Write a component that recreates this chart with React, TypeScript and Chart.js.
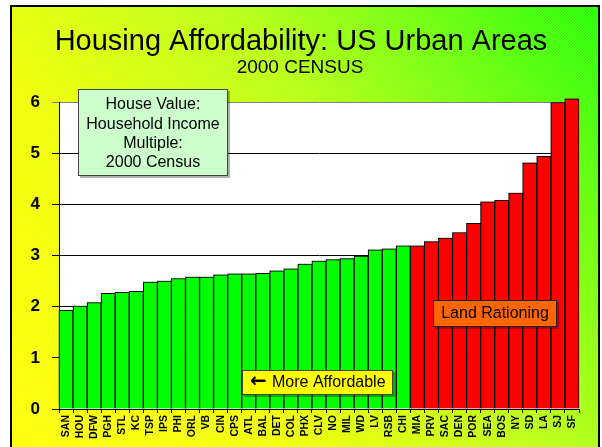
import React, { useEffect, useRef } from "react";
import { Chart, registerables } from "chart.js";

Chart.register(...registerables);

const cities = [
  "SAN", "HOU", "DFW", "PGH", "STL", "KC", "TSP", "IPS", "PHI", "ORL", "VB", "CIN", "CPS",
  "ATL", "BAL", "DET", "COL", "PHX", "CLV", "NO", "MIL", "WD", "LV", "RSB", "CHI",
  "MIA", "PRV", "SAC", "DEN", "POR", "SEA", "BOS", "NY", "SD", "LA", "SJ", "SF",
];
const multiples = [
  1.93, 2.01, 2.08, 2.26, 2.28, 2.3, 2.48, 2.5, 2.55, 2.58, 2.58, 2.62, 2.64,
  2.64, 2.65, 2.7, 2.74, 2.83, 2.89, 2.92, 2.94, 2.99, 3.11, 3.13, 3.19,
  3.19, 3.27, 3.34, 3.45, 3.63, 4.05, 4.08, 4.22, 4.81, 4.94, 5.99, 6.06,
];
const affordableCount = 25;
const yTicks = [0, 1, 2, 3, 4, 5, 6];

const titleText = "Housing Affordability: US Urban Areas";
const subtitleText = "2000 CENSUS";
const infoLines = ["House Value:", "Household Income", "Multiple:", "2000 Census"];
const arrowGlyph = "\u2190";
const affordableLabel = "More Affordable";
const rationingLabel = "Land Rationing";

const FONT = "Arial, 'Liberation Sans', sans-serif";

const backgroundPlugin = {
  id: "bgFrame",
  beforeDraw(chart: any) {
    const { ctx, width, height, chartArea } = chart;
    ctx.save();
    ctx.fillStyle = "#ffffff";
    ctx.fillRect(0, 0, width, height);
    const fx = 11, fy = 6, fw = 588, fh = height + 10;
    const g = ctx.createLinearGradient(fx, height, fx + fw, fy);
    g.addColorStop(0, "#ffff00");
    g.addColorStop(0.3, "#f0ff00");
    g.addColorStop(0.6, "#b8ff10");
    g.addColorStop(1, "#22ff00");
    ctx.fillStyle = g;
    ctx.fillRect(fx, fy, fw, fh);
    ctx.beginPath();
    ctx.rect(fx, fy, fw, fh);
    ctx.clip();
    ctx.beginPath();
    ctx.strokeStyle = "rgba(255,255,255,0.18)";
    ctx.lineWidth = 1;
    for (let k = -height; k < width + height; k += 3) {
      ctx.moveTo(k, 0);
      ctx.lineTo(k + height, height);
    }
    ctx.stroke();
    ctx.restore();
    ctx.save();
    ctx.strokeStyle = "#000";
    ctx.lineWidth = 2;
    ctx.strokeRect(fx, fy, fw, fh);
    ctx.fillStyle = "#ffffff";
    ctx.fillRect(chartArea.left, chartArea.top, chartArea.right - chartArea.left, chartArea.bottom - chartArea.top);
    ctx.fillStyle = "#000";
    ctx.textAlign = "center";
    ctx.textBaseline = "alphabetic";
    ctx.font = `29px ${FONT}`;
    ctx.fillText(titleText, 301, 50);
    ctx.font = `19px ${FONT}`;
    ctx.fillText(subtitleText, 300, 73);
    ctx.restore();
  },
  beforeDatasetsDraw(chart: any) {
    const ctx = chart.ctx;
    ctx.save();
    ctx.shadowColor = "rgba(0,0,0,0.35)";
    ctx.shadowOffsetX = -1;
    ctx.shadowOffsetY = -3;
    ctx.shadowBlur = 0;
  },
  afterDatasetsDraw(chart: any) {
    chart.ctx.restore();
  },
  afterDraw(chart: any) {
    const { ctx } = chart;
    const box = (x: number, y: number, w: number, h: number, fill: string, border: string) => {
      ctx.fillStyle = "rgba(0,0,0,0.3)";
      ctx.fillRect(x + 2, y + 2, w, h);
      ctx.fillStyle = fill;
      ctx.fillRect(x, y, w, h);
      ctx.strokeStyle = border;
      ctx.lineWidth = 1;
      ctx.strokeRect(x + 0.5, y + 0.5, w - 1, h - 1);
    };
    ctx.save();
    box(78, 89, 150, 87, "#ccffcc", "#444");
    ctx.fillStyle = "#000";
    ctx.textAlign = "center";
    ctx.textBaseline = "middle";
    ctx.font = `16px ${FONT}`;
    infoLines.forEach((t, i) => ctx.fillText(t, 153, 105 + i * 19.3));
    box(242, 370, 151, 25, "#ffff00", "#444");
    ctx.fillStyle = "#000";
    ctx.textAlign = "left";
    ctx.font = `bold 20px 'DejaVu Sans', ${FONT}`;
    ctx.fillText(arrowGlyph, 250, 382);
    ctx.font = `16px ${FONT}`;
    ctx.fillText(affordableLabel, 272, 383);
    box(433, 300, 124, 27, "#ff6600", "#222");
    ctx.fillStyle = "#000";
    ctx.textAlign = "center";
    ctx.fillText(rationingLabel, 495, 314);
    ctx.restore();
  },
};

export default function App() {
  const ref = useRef<HTMLCanvasElement | null>(null);
  useEffect(() => {
    if (!ref.current) return;
    const colors = multiples.map((_, i) => (i < affordableCount ? "#00ff00" : "#ff0000"));
    const chart = new Chart(ref.current, {
      type: "bar",
      data: {
        labels: cities,
        datasets: [
          {
            data: multiples,
            backgroundColor: colors,
            borderColor: "#000",
            borderWidth: 1,
            barPercentage: 1,
            categoryPercentage: 1,
            clip: false as any,
          },
        ],
      },
      options: {
        responsive: false,
        animation: false,
        devicePixelRatio: 1,
        layout: { padding: { left: 11, right: 23, top: 102, bottom: 0 } },
        plugins: { legend: { display: false }, tooltip: { enabled: false }, title: { display: false } },
        scales: {
          x: {
            offset: true,
            grid: { display: true, drawOnChartArea: false, drawTicks: true, tickLength: 4, color: "#000", offset: true },
            border: { color: "#000", width: 1 },
            ticks: {
              autoSkip: false,
              maxRotation: 90,
              minRotation: 90,
              padding: 2,
              color: "#000",
              font: { family: FONT, size: 10.5, weight: "bold" },
            },
            afterFit: (s: any) => {
              s.height = 38;
            },
          },
          y: {
            min: 0,
            max: 6,
            afterBuildTicks: (s: any) => {
              s.ticks = yTicks.map((v) => ({ value: v }));
            },
            grid: {
              color: (c: any) => (c.tick && c.tick.value === 6 ? "#808080" : "#000"),
              tickLength: 7,
              lineWidth: 1,
            },
            border: { color: "#000", width: 1 },
            ticks: {
              padding: 12,
              color: "#000",
              font: { family: FONT, size: 17, weight: "bold" },
            },
            afterFit: (s: any) => {
              s.width = 48;
            },
          },
        },
      },
      plugins: [backgroundPlugin],
    });
    return () => chart.destroy();
  }, []);
  return (
    <div style={{ position: "absolute", left: 0, top: 0, width: 602, height: 447 }}>
      <canvas ref={ref} width={602} height={447} style={{ width: 602, height: 447, display: "block" }} />
    </div>
  );
}
